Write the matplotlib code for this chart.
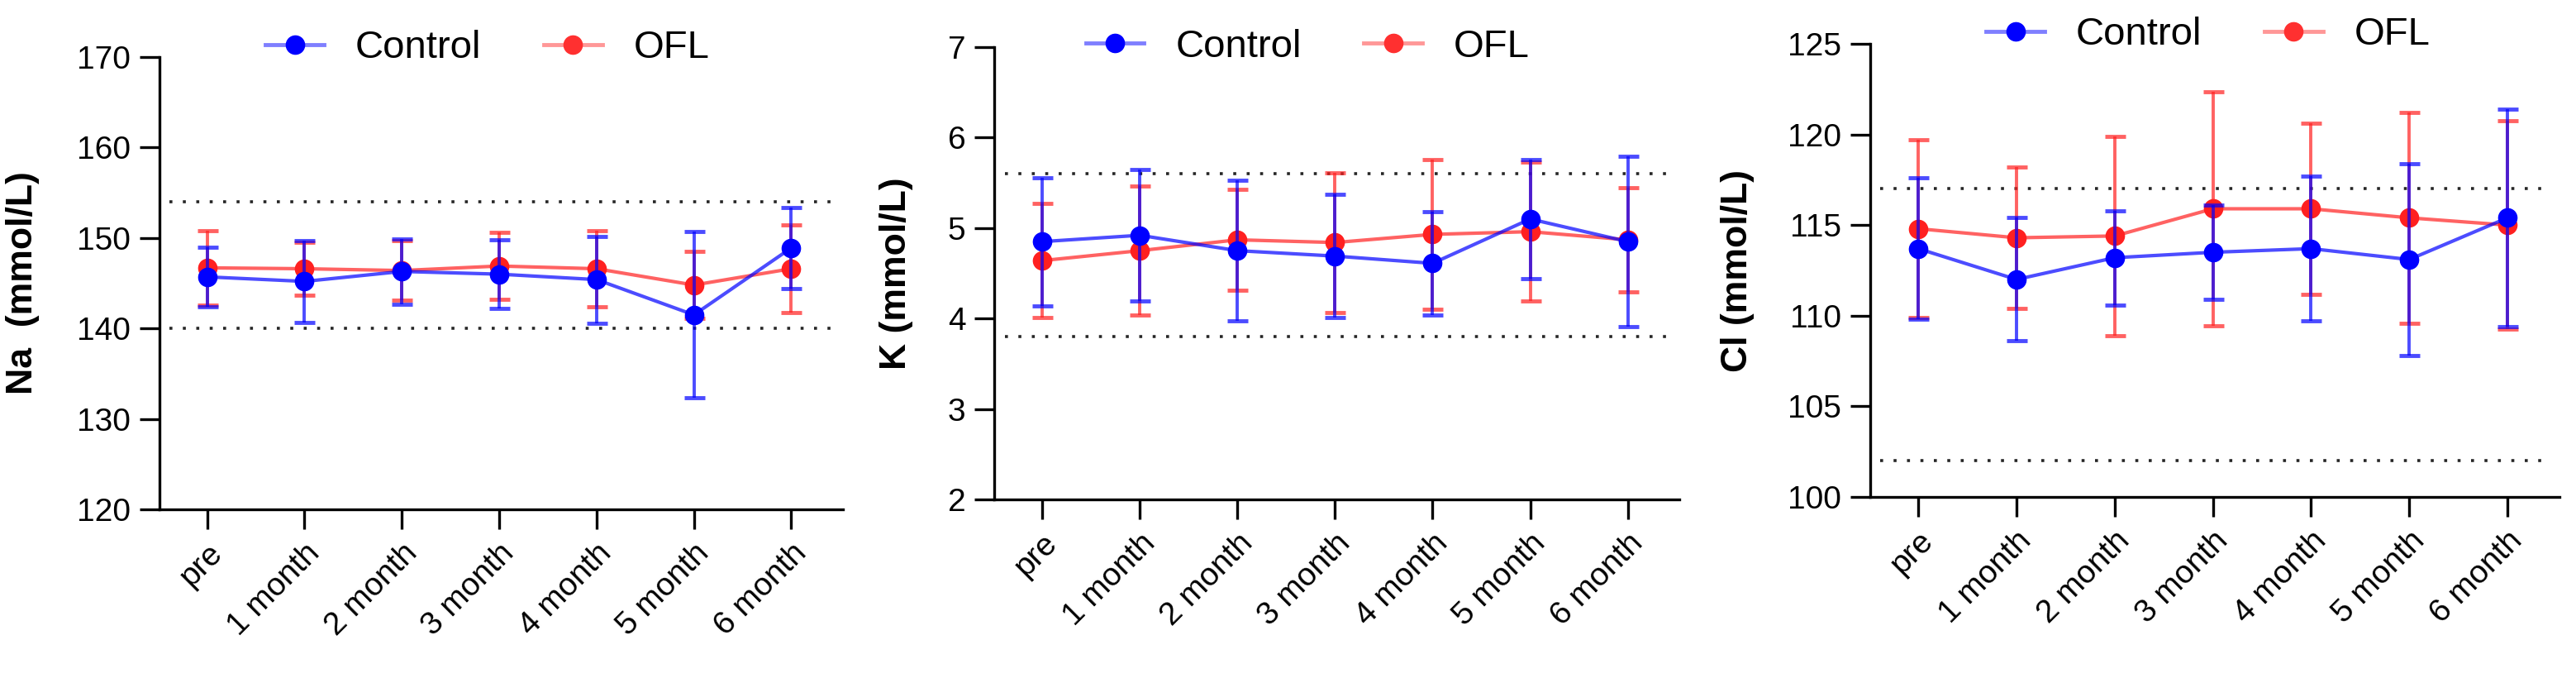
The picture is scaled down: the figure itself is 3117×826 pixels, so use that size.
import matplotlib
matplotlib.use("Agg")
import matplotlib.pyplot as plt
from matplotlib.colors import to_rgba
from matplotlib.lines import Line2D

plt.rcParams.update({
    "font.family": ["Liberation Sans", "DejaVu Sans"],
    "axes.spines.top": False,
    "axes.spines.right": False,
    "axes.linewidth": 2.4,
})

# time points
categories = ["pre", "1 month", "2 month", "3 month", "4 month", "5 month", "6 month"]

# Na (mmol/L)
na_ctrl_mean = [145.7, 145.2, 146.3, 146.0, 145.4, 141.5, 148.9]
na_ctrl_sd = [3.3, 4.5, 3.6, 3.8, 4.8, 9.2, 4.5]
na_ofl_mean = [146.7, 146.6, 146.4, 146.9, 146.6, 144.8, 146.6]
na_ofl_sd = [4.1, 2.9, 3.3, 3.7, 4.2, 3.7, 4.8]
na_ref = [140, 154]

# K (mmol/L)
k_ctrl_mean = [4.85, 4.92, 4.75, 4.69, 4.61, 5.10, 4.85]
k_ctrl_sd = [0.71, 0.73, 0.78, 0.68, 0.57, 0.66, 0.94]
k_ofl_mean = [4.64, 4.75, 4.87, 4.84, 4.93, 4.96, 4.87]
k_ofl_sd = [0.63, 0.71, 0.56, 0.77, 0.83, 0.77, 0.58]
k_ref = [3.8, 5.6]

# Cl (mmol/L)
cl_ctrl_mean = [113.7, 112.0, 113.2, 113.5, 113.7, 113.1, 115.4]
cl_ctrl_sd = [3.9, 3.4, 2.6, 2.6, 4.0, 5.3, 6.0]
cl_ofl_mean = [114.8, 114.3, 114.4, 115.9, 115.9, 115.4, 115.0]
cl_ofl_sd = [4.9, 3.9, 5.5, 6.45, 4.7, 5.8, 5.75]
cl_ref = [102, 117]

BLUE = "#0000FF"
RED = "#FF2020"

panels = [
    # (axes rect, ylim, yticks, ylabel, label x, legend anchor, data)
    ([0.0619, 0.2542, 0.2653, 0.6623], (120, 170), [120, 130, 140, 150, 160, 170],
     "Na  (mmol/L)", -0.175, (0.48, 1.02),
     na_ctrl_mean, na_ctrl_sd, na_ofl_mean, na_ofl_sd, na_ref),
    ([0.3860, 0.2688, 0.2660, 0.6622], (2, 7), [2, 3, 4, 5, 6, 7],
     "K (mmol/L)", -0.118, (0.457, 1.0),
     k_ctrl_mean, k_ctrl_sd, k_ofl_mean, k_ofl_sd, k_ref),
    ([0.7260, 0.2724, 0.2676, 0.6634], (100, 125), [100, 105, 110, 115, 120, 125],
     "Cl (mmol/L)", -0.168, (0.49, 1.02),
     cl_ctrl_mean, cl_ctrl_sd, cl_ofl_mean, cl_ofl_sd, cl_ref),
]

fig = plt.figure(figsize=(31.17, 8.26), dpi=100)

for rect, ylim, yticks, ylabel, labx, leg_anchor, cm, cs, om, osd, ref in panels:
    ax = fig.add_axes(rect)
    x = list(range(len(categories)))

    for r in ref:
        ax.axhline(r, xmin=0.015, xmax=0.985, color="0.15",
                   linestyle=(0, (1, 3.5)), linewidth=2.6, zorder=1)

    for mean, sd, col, z in [(om, osd, RED, 3), (cm, cs, BLUE, 4)]:
        ax.errorbar(x, mean, yerr=sd, fmt="none", ecolor=col, elinewidth=2.8,
                    capsize=9, capthick=3.5, alpha=0.7, zorder=z)
        ax.plot(x, mean, color=col, linewidth=3, alpha=0.7, zorder=z)
        ax.plot(x, mean, linestyle="none", marker="o", markersize=16,
                color=col, zorder=z + 0.5)

    ax.set_xlim(-0.49, len(categories) - 1 + 0.53)
    ax.set_ylim(*ylim)
    ax.set_yticks(yticks)
    ax.set_xticks(x)
    ax.set_xticklabels(categories, rotation=45, ha="right",
                       rotation_mode="anchor")
    ax.tick_params(axis="both", labelsize=28, width=2.4, length=17, pad=8)
    ax.set_ylabel(ylabel, fontsize=32, fontweight="bold")
    ax.yaxis.set_label_coords(labx, 0.5)

    handles = [
        Line2D([], [], color=to_rgba(c, 0.5), linewidth=3.5, marker="o",
               markersize=16, markerfacecolor=c, markeredgecolor=c)
        for c in (BLUE, "#FF3030")
    ]
    ax.legend(handles, ["Control", "OFL"], loc="center",
              bbox_to_anchor=leg_anchor, ncol=2, frameon=False,
              fontsize=34, handlelength=1.5, handletextpad=0.8,
              columnspacing=1.6)

fig.savefig("out.png", dpi=100)
